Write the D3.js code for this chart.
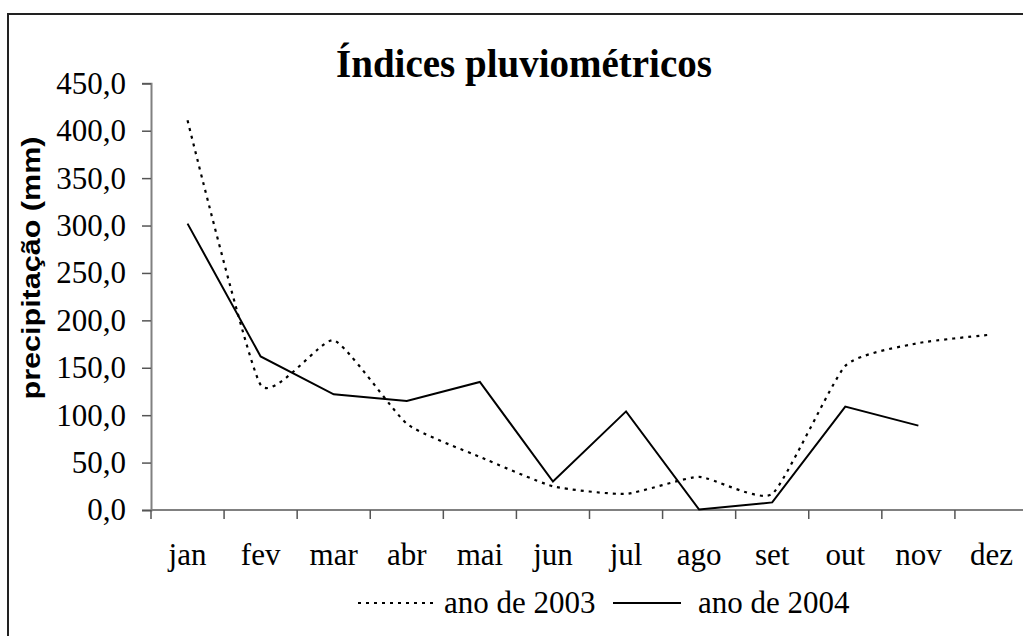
<!DOCTYPE html>
<html>
<head>
<meta charset="utf-8">
<script src="https://cdn.jsdelivr.net/npm/d3@7"></script>
<style>
  body { margin: 0; background: #fff; }
  svg { display: block; overflow: hidden; }
</style>
</head>
<body>
<div id="chart"></div>
<script>
// data
var months = ["jan", "fev", "mar", "abr", "mai", "jun", "jul", "ago", "set", "out", "nov", "dez"];
var ano2003 = [411, 132, 179, 91, 56, 25, 17, 35, 17, 152, 176, 185];
var ano2004 = [302, 162, 122, 115, 135, 30, 104, 0.5, 8, 109, 89, null];
var yTicks = [0, 50, 100, 150, 200, 250, 300, 350, 400, 450];
var seriesNames = ["ano de 2003", "ano de 2004"];

var W = 1023, H = 636;
var serif = "'Liberation Serif', 'Times New Roman', Times, serif";

var svg = d3.select("#chart")
  .append("svg")
    .attr("width", W)
    .attr("height", H);

// frame of the chart (right and bottom edges fall outside the picture)
svg.append("rect")
    .attr("x", 8)
    .attr("y", 14)
    .attr("width", 1100)
    .attr("height", 700)
    .attr("fill", "#fff")
    .attr("stroke", "#222")
    .attr("stroke-width", 2);

var x = d3.scaleBand()
  .domain(months)
  .range([151, 1028]);

var y = d3.scaleLinear()
  .domain([0, 450])
  .range([510, 83.3]);

// Y axis
var yAxis = svg.append("g")
    .attr("transform", "translate(151,0)")
    .call(d3.axisLeft(y)
      .tickValues(yTicks)
      .tickSize(9)
      .tickPadding(16)
      .tickFormat(function(d) { return d.toFixed(1).replace(".", ","); }));
yAxis.select(".domain").attr("stroke", "#808080").attr("stroke-width", 2);
yAxis.selectAll(".tick line").attr("stroke", "#555").attr("stroke-width", 1.5);
yAxis.selectAll(".tick text")
    .attr("dy", "0.32em")
    .attr("fill", "#000")
    .style("font-family", serif)
    .style("font-size", "31px");

// X axis: line, ticks between categories, labels at centres
svg.append("line")
    .attr("x1", 151).attr("x2", 1028)
    .attr("y1", y(0)).attr("y2", y(0))
    .attr("stroke", "#808080")
    .attr("stroke-width", 2);

var bounds = months.map(function(m) { return x(m); }).concat([x.range()[1]]);
svg.append("g").selectAll("line")
  .data(bounds)
  .enter()
  .append("line")
    .attr("x1", function(d) { return d; })
    .attr("x2", function(d) { return d; })
    .attr("y1", y(0))
    .attr("y2", y(0) + 9)
    .attr("stroke", "#555")
    .attr("stroke-width", 1.5);

svg.append("g").selectAll("text")
  .data(months)
  .enter()
  .append("text")
    .attr("text-anchor", "middle")
    .attr("x", function(d) { return x(d) + x.bandwidth() / 2; })
    .attr("y", 565)
    .style("font-family", serif)
    .style("font-size", "31px")
    .text(function(d) { return d; });

// title
svg.append("text")
    .attr("text-anchor", "middle")
    .attr("x", 524)
    .attr("y", 77)
    .style("font-family", serif)
    .style("font-weight", "bold")
    .style("font-size", "39px")
    .text("Índices pluviométricos");

// y label
svg.append("text")
    .attr("text-anchor", "middle")
    .attr("transform", "translate(40,268) rotate(-90)")
    .attr("textLength", 263)
    .attr("lengthAdjust", "spacingAndGlyphs")
    .style("font-family", "'Liberation Sans', Arial, sans-serif")
    .style("font-weight", "bold")
    .style("font-size", "26px")
    .text("precipitação (mm)");

// lines
var cx = function(d, i) { return x(months[i]) + x.bandwidth() / 2; };

var line2003 = d3.line()
    .x(cx)
    .y(function(d) { return y(d); })
    .curve(d3.curveCardinal.tension(0.5));

var line2004 = d3.line()
    .defined(function(d) { return d != null; })
    .x(cx)
    .y(function(d) { return y(d); });

svg.append("path")
    .datum(ano2003)
    .attr("fill", "none")
    .attr("stroke", "#000")
    .attr("stroke-width", 2.2)
    .attr("stroke-dasharray", "3,5")
    .attr("d", line2003);

svg.append("path")
    .datum(ano2004)
    .attr("fill", "none")
    .attr("stroke", "#000")
    .attr("stroke-width", 2)
    .attr("d", line2004);

// legend
var legend = [
  {name: seriesNames[0], x1: 358, x2: 434, tx: 444, dash: "3,5"},
  {name: seriesNames[1], x1: 613, x2: 681, tx: 698, dash: null}
];
var lg = svg.append("g").selectAll("g")
  .data(legend)
  .enter()
  .append("g");
lg.append("line")
    .attr("x1", function(d) { return d.x1; })
    .attr("x2", function(d) { return d.x2; })
    .attr("y1", 603).attr("y2", 603)
    .attr("stroke", "#000")
    .attr("stroke-width", 2)
    .attr("stroke-dasharray", function(d) { return d.dash; });
lg.append("text")
    .attr("x", function(d) { return d.tx; })
    .attr("y", 613)
    .style("font-family", serif)
    .style("font-size", "31px")
    .text(function(d) { return d.name; });
</script>
</body>
</html>
